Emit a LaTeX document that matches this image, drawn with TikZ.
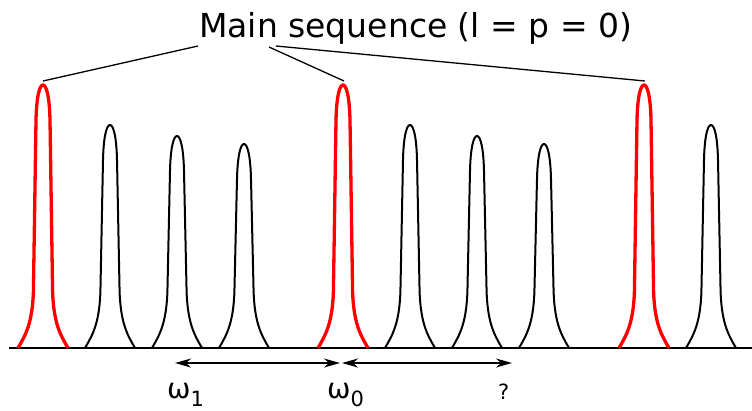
\documentclass[tikz,border=0pt]{standalone}
\usepackage{fontspec}
\setmainfont{DejaVu Sans}
\usetikzlibrary{arrows.meta}
\newcommand\drawpeak[3]{%
  \draw[#3] ({#1-25},348) .. controls ({#1-17.5},335) and ({#1-10.8},324) .. ({#1-9.6},292)
    -- ({#1-7},{#2+35}) .. controls ({#1-6.5},{#2+12}) and ({#1-3.5},{#2}) .. ({#1},{#2})
    .. controls ({#1+3.5},{#2}) and ({#1+6.5},{#2+12}) .. ({#1+7},{#2+35})
    -- ({#1+9.6},292) .. controls ({#1+10.8},324) and ({#1+17.5},335) .. ({#1+25},348);}
\begin{document}
\begin{tikzpicture}[x=1pt,y=-1pt,
  redpeak/.style={draw=red,line width=3.3pt},
  blackpeak/.style={draw=black,line width=2pt},
  leader/.style={draw=black,line width=1.3pt},
  axisline/.style={draw=black,line width=1.6pt},
  tip/.style={Stealth[length=16pt,width=9pt,inset=5pt]},
  arr/.style={draw=black,line width=1.6pt,{Stealth[length=16pt,width=9pt,inset=5pt]}-{Stealth[length=16pt,width=9pt,inset=5pt]}},
  lbl/.style={inner sep=0pt,anchor=base west}]
\useasboundingbox (0,0) rectangle (752,410);
% baseline
\coordinate (b0) at (9,348);
\coordinate (b1) at (752,348);
\draw[axisline] (b0) -- (b1);
% peaks
\drawpeak{110}{125}{blackpeak}
\drawpeak{177}{136}{blackpeak}
\drawpeak{244}{144}{blackpeak}
\drawpeak{410}{125}{blackpeak}
\drawpeak{477}{136}{blackpeak}
\drawpeak{544}{144}{blackpeak}
\drawpeak{711}{125}{blackpeak}
\drawpeak{43}{85}{redpeak}
\drawpeak{343}{85}{redpeak}
\drawpeak{644}{85}{redpeak}
% title and leaders
\node[lbl] (title) at (199,37) {\fontsize{33}{40}\selectfont Main sequence (l = p = 0)};
\coordinate (s1) at (198,46);
\coordinate (s2) at (269,47);
\coordinate (s3) at (276,46);
\coordinate (m1) at (43,81);
\coordinate (m2) at (344,81);
\coordinate (m3) at (645,81);
\draw[leader] (s1) -- (m1);
\draw[leader] (s2) -- (m2);
\draw[leader] (s3) -- (m3);
% arrows
\coordinate (a1) at (175,363);
\coordinate (a0l) at (340,363);
\coordinate (a0r) at (342,363);
\coordinate (a2) at (512,363);
\draw[arr] (a1) -- (a0l);
\draw[arr] (a0r) -- (a2);
% labels
\node[lbl] (w1) at (167,398) {\fontsize{28}{30}\selectfont ω\raisebox{-8pt}{\fontsize{21}{24}\selectfont 1}};
\node[lbl] (w0) at (327,398) {\fontsize{28}{30}\selectfont ω\raisebox{-8pt}{\fontsize{21}{24}\selectfont 0}};
\node[lbl] (q) at (498,399) {\fontsize{21}{24}\selectfont ?};
\end{tikzpicture}
\end{document}
